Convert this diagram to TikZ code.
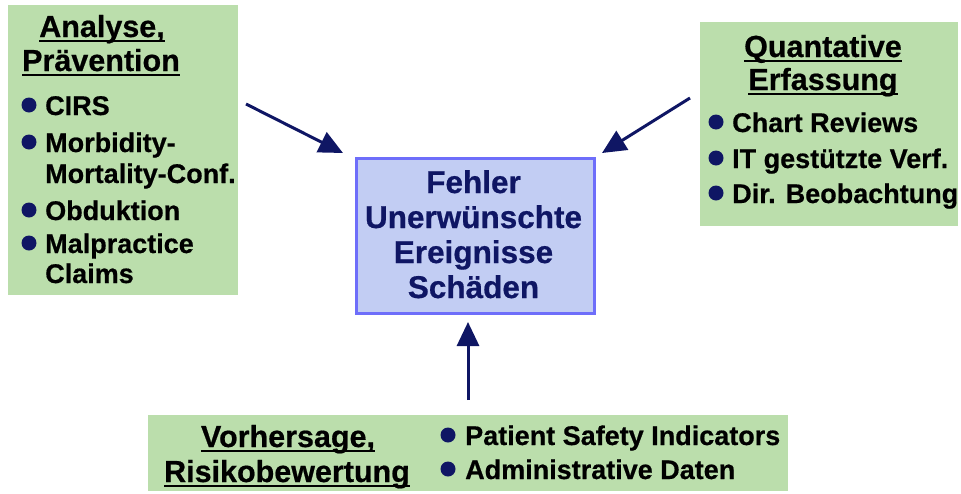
\documentclass[tikz,border=0pt]{standalone}
\usepackage{fontspec}
\setmainfont{Liberation Sans}[BoldFeatures={FakeBold=0.6}]
\usetikzlibrary{arrows.meta}
\definecolor{boxgreen}{RGB}{187,222,172}
\definecolor{cfill}{RGB}{194,205,243}
\definecolor{cborder}{RGB}{110,110,250}
\definecolor{navy}{RGB}{15,22,100}
\newcommand{\hul}[1]{\setbox0=\hbox{#1}\rlap{\rule[-4.5pt]{\wd0}{2pt}}\box0}
\begin{document}
\begin{tikzpicture}[x=1pt,y=-1pt,
  greenbox/.style={fill=boxgreen, draw=none, inner sep=0, anchor=north west},
  head/.style={font=\fontsize{30.5}{34}\selectfont\bfseries, anchor=base, inner sep=0},
  item/.style={font=\fontsize{27}{31}\selectfont\bfseries, anchor=base west, inner sep=0},
  ctext/.style={font=\fontsize{31.5}{35}\selectfont\bfseries, text=navy, anchor=base, inner sep=0},
  dot/.style={circle, fill=navy, draw=none, inner sep=0, minimum size=15pt},
  arr/.style={draw=navy, line width=3pt, -{Triangle[length=24pt,width=22pt]}}]
\useasboundingbox (0,0) rectangle (961,493);

% left box
\node[greenbox, minimum width=230pt, minimum height=290pt] (lbox) at (8,5) {};
\node[head] (lh1) at (102,37) {\hul{Analyse,}};
\node[head] (lh2) at (101,71) {\hul{Prävention}};
\node[dot] (ld1) at (29,105) {};
\node[item] (li1) at (45,115) {CIRS};
\node[dot] (ld2) at (29,142) {};
\node[item] (li2) at (45,152) {Morbidity-};
\node[item] (li3) at (45,183) {Mortality-Conf.};
\node[dot] (ld3) at (29,210) {};
\node[item] (li4) at (45,220) {Obduktion};
\node[dot] (ld4) at (29,243) {};
\node[item] (li5) at (45,253) {Malpractice};
\node[item] (li6) at (45,283) {Claims};

% right box
\node[greenbox, minimum width=258pt, minimum height=204pt] (rbox) at (700,22) {};
\node[head] (rh1) at (823,57) {\hul{Quantative}};
\node[head] (rh2) at (823,90) {\hul{Erfassung}};
\node[dot] (rd1) at (716,122) {};
\node[item] (ri1) at (732,132) {Chart Reviews};
\node[dot] (rd2) at (716,158) {};
\node[item] (ri2) at (732,168) {IT gestützte Verf.};
\node[dot] (rd3) at (716,193) {};
\node[item] (ri3) at (732,203) {Dir. Beobachtung};

% bottom box
\node[greenbox, minimum width=640pt, minimum height=76pt] (bbox) at (148,415) {};
\node[head] (bh1) at (288,447) {\hul{Vorhersage,}};
\node[head] (bh2) at (287,482) {\hul{Risikobewertung}};
\node[dot] (bd1) at (448,435) {};
\node[item] (bi1) at (465,445) {Patient Safety Indicators};
\node[dot] (bd2) at (448,469) {};
\node[item] (bi2) at (465,479) {Administrative Daten};

% centre box
\node[fill=cfill, draw=cborder, line width=3pt, minimum width=238pt, minimum height=155pt, anchor=north west, inner sep=0] (cbox) at (354.5,156.5) {};
\node[ctext] (c1) at (473.5,193) {Fehler};
\node[ctext] (c2) at (473.5,228) {Unerwünschte};
\node[ctext] (c3) at (473.5,263) {Ereignisse};
\node[ctext] (c4) at (473.5,298) {Schäden};

% arrows
\coordinate (la1) at (246,104);
\coordinate (la2) at (343,153);
\coordinate (ra1) at (690,98);
\coordinate (ra2) at (602,153);
\coordinate (ba1) at (468,400);
\coordinate (ba2) at (468,322);
\draw[arr] (la1) -- (la2);
\draw[arr] (ra1) -- (ra2);
\draw[arr] (ba1) -- (ba2);
\end{tikzpicture}
\end{document}
